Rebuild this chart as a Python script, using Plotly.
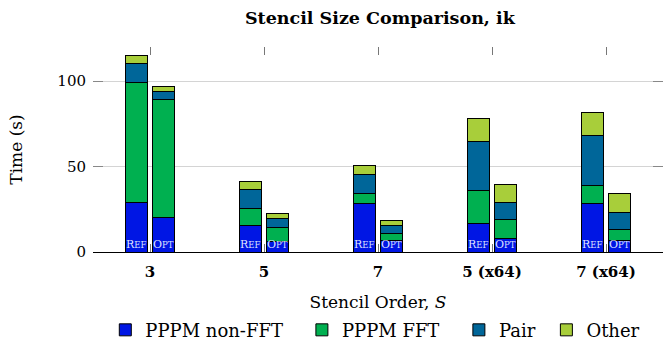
import plotly.graph_objects as go

categories = ["3", "5", "7", "5 (x64)", "7 (x64)"]
variants = ["Ref", "Opt"]
series_names = ["PPPM non-FFT", "PPPM FFT", "Pair", "Other"]
colors = ["#0016e4", "#00b050", "#006699", "#a8ce3a"]

# values per series: [Ref, Opt] for each category
ref_nonfft = [29.1, 15.7, 28.3, 16.9, 28.6]
ref_fft = [70.0, 9.5, 6.1, 19.0, 10.2]
ref_pair = [11.2, 11.5, 11.2, 28.7, 29.2]
ref_other = [4.9, 4.8, 4.9, 13.8, 13.6]

opt_nonfft = [20.2, 6.2, 6.8, 7.8, 6.8]
opt_fft = [69.0, 8.4, 4.3, 11.2, 6.6]
opt_pair = [4.8, 4.8, 4.6, 9.9, 9.9]
opt_other = [2.9, 2.9, 2.9, 10.7, 10.9]

ref_series = [ref_nonfft, ref_fft, ref_pair, ref_other]
opt_series = [opt_nonfft, opt_fft, opt_pair, opt_other]

offset = 0.118
bw = 0.19
xs = list(range(len(categories)))
x_ref = [x - offset for x in xs]
x_opt = [x + offset for x in xs]

SERIF = "DejaVu Serif"
legend_ids = ["legend", "legend2", "legend3", "legend4"]
legend_x = [0.0216, 0.3665, 0.6419, 0.7954]

fig = go.Figure()
for name, col, rv, ov, lid in zip(series_names, colors, ref_series, opt_series, legend_ids):
    fig.add_trace(go.Bar(x=x_ref, y=rv, width=bw, name=name, legendgroup=name, legend=lid,
                         marker=dict(color=col, line=dict(color="black", width=1)),
                         hoverinfo="skip"))
    fig.add_trace(go.Bar(x=x_opt, y=ov, width=bw, name=name, legendgroup=name, legend=lid,
                         showlegend=False,
                         marker=dict(color=col, line=dict(color="black", width=1)),
                         hoverinfo="skip"))

label_html = {"Ref": "R<span style='font-size:8.5px'>EF</span>",
              "Opt": "O<span style='font-size:8.5px'>PT</span>"}
for xr, xo in zip(x_ref, x_opt):
    for xv, v in ((xr, "Ref"), (xo, "Opt")):
        fig.add_annotation(x=xv, y=0, yanchor="bottom", yshift=-1, showarrow=False,
                           text=label_html[v],
                           font=dict(family=SERIF, size=11, color="#dfe2ff"))

fig.add_trace(go.Scatter(x=[None], y=[None], xaxis="x2", yaxis="y2", showlegend=False))

legend_common = dict(orientation="h", xanchor="left", yref="container", y=0.029,
                     yanchor="middle", font=dict(family=SERIF, size=18, color="black"),
                     itemclick=False, itemdoubleclick=False, bgcolor="rgba(0,0,0,0)")

fig.update_layout(
    width=663, height=340,
    margin=dict(l=93, r=0, t=47, b=88),
    paper_bgcolor="white", plot_bgcolor="white",
    barmode="stack",
    title=dict(text="<b>Stencil Size Comparison, ik</b>", x=0.573, xanchor="center",
               y=0.947, yanchor="middle",
               font=dict(family=SERIF, size=17.5, color="black")),
    xaxis=dict(range=[-0.5, 4.5], tickvals=xs, ticktext=["<b>%s</b>" % c for c in categories],
               ticks="inside", ticklen=8, tickcolor="#777777", automargin=False,
               showline=True, linecolor="black", linewidth=1, showgrid=False, zeroline=False,
               ticklabelstandoff=6,
               tickfont=dict(family=SERIF, size=15, color="black"),
               title=dict(text="Stencil Order, <i>S</i>", standoff=29,
                          font=dict(family=SERIF, size=17, color="black"))),
    xaxis2=dict(range=[-0.5, 4.5], overlaying="x", side="top", tickvals=xs,
                showticklabels=False, ticks="inside", ticklen=8, tickcolor="#777777",
                showline=False, showgrid=False, zeroline=False),
    yaxis=dict(range=[0, 120], tickvals=[0, 50, 100], ticks="inside", ticklen=10,
               tickcolor="#888888", showgrid=True, gridcolor="#d4d4d4", gridwidth=1,
               zeroline=False, showline=False, ticklabelstandoff=6, automargin=False,
               tickfont=dict(family=SERIF, size=15, color="black"),
               title=dict(text="Time (s)", standoff=30,
                          font=dict(family=SERIF, size=17, color="black"))),
    yaxis2=dict(range=[0, 120], overlaying="y", side="right", tickvals=[0, 50, 100],
                showticklabels=False, ticks="inside", ticklen=10, tickcolor="#888888",
                showgrid=False, zeroline=False, showline=False),
    legend=dict(x=legend_x[0], **legend_common),
    legend2=dict(x=legend_x[1], **legend_common),
    legend3=dict(x=legend_x[2], **legend_common),
    legend4=dict(x=legend_x[3], **legend_common),
    showlegend=True,
)

fig.write_html("out.html")
